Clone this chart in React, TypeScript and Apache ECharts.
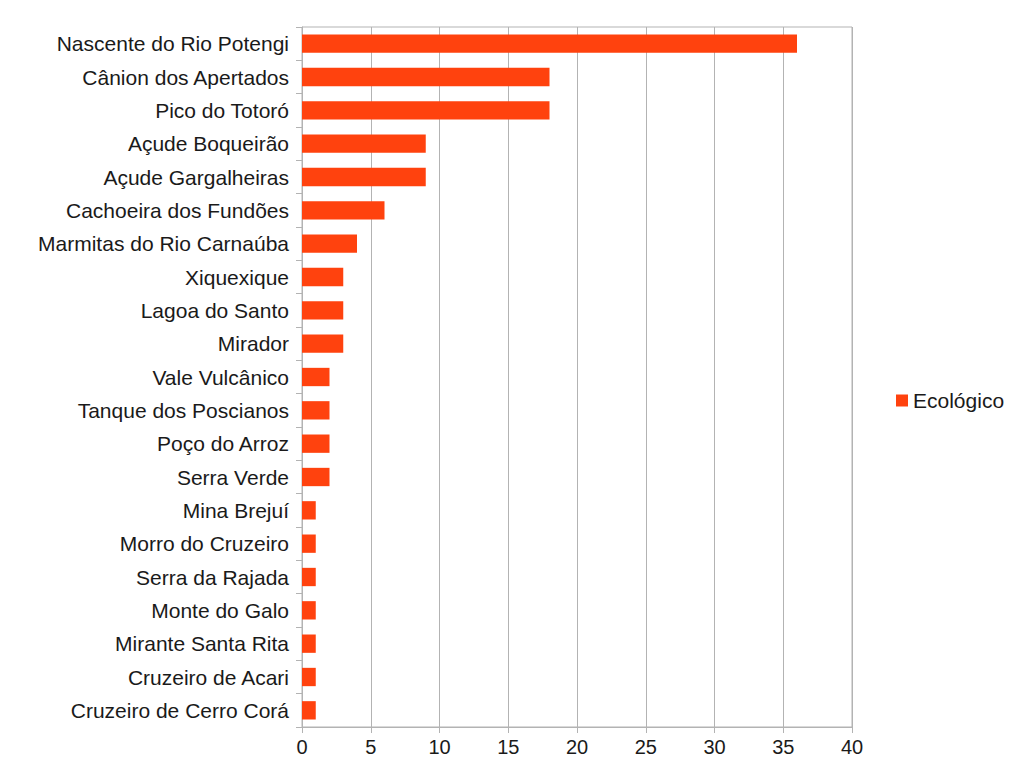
import React, { useEffect, useRef } from "react";
import * as echarts from "echarts";

const categories = [
  "Nascente do Rio Potengi",
  "Cânion dos Apertados",
  "Pico do Totoró",
  "Açude Boqueirão",
  "Açude Gargalheiras",
  "Cachoeira dos Fundões",
  "Marmitas do Rio Carnaúba",
  "Xiquexique",
  "Lagoa do Santo",
  "Mirador",
  "Vale Vulcânico",
  "Tanque dos Poscianos",
  "Poço do Arroz",
  "Serra Verde",
  "Mina Brejuí",
  "Morro do Cruzeiro",
  "Serra da Rajada",
  "Monte do Galo",
  "Mirante Santa Rita",
  "Cruzeiro de Acari",
  "Cruzeiro de Cerro Corá",
];
const values = [36, 18, 18, 9, 9, 6, 4, 3, 3, 3, 2, 2, 2, 2, 1, 1, 1, 1, 1, 1, 1];
const seriesName = "Ecológico";

export default function App() {
  const ref = useRef<HTMLDivElement>(null);
  useEffect(() => {
    const chart = echarts.init(ref.current!, null, { renderer: "svg" });
    const font = "'Liberation Sans', Arial, sans-serif";
    const gray = "#b3b3b3";
    chart.setOption({
      animation: false,
      backgroundColor: "#ffffff",
      textStyle: { fontFamily: font },
      grid: {
        left: 302,
        right: 163,
        top: 27,
        bottom: 52,
        show: true,
        borderColor: gray,
        borderWidth: 1,
        containLabel: false,
      },
      legend: {
        data: [seriesName],
        orient: "vertical",
        left: 891,
        top: 385,
        itemWidth: 12,
        itemHeight: 12,
        icon: "rect",
        itemGap: 8,
        textStyle: { fontSize: 21, color: "#1a1a1a", fontFamily: font },
      },
      xAxis: {
        type: "value",
        min: 0,
        max: 40,
        interval: 5,
        axisLine: { show: true, lineStyle: { color: gray } },
        axisTick: { show: true, length: 6, lineStyle: { color: gray } },
        splitLine: { show: true, lineStyle: { color: gray } },
        axisLabel: { fontSize: 20, color: "#1a1a1a", margin: 10, fontFamily: font },
      },
      yAxis: {
        type: "category",
        inverse: true,
        data: categories,
        axisLine: { show: true, lineStyle: { color: gray } },
        axisTick: { show: true, length: 6, lineStyle: { color: gray } },
        splitLine: { show: false },
        axisLabel: { fontSize: 21, color: "#1a1a1a", margin: 13, fontFamily: font },
      },
      series: [
        {
          name: seriesName,
          type: "bar",
          data: values,
          barCategoryGap: "45%",
          itemStyle: { color: "#ff420e" },
        },
      ],
    });
    return () => chart.dispose();
  }, []);
  return (
    <div
      ref={ref}
      style={{ position: "fixed", left: 0, top: 0, width: 1015, height: 779 }}
    />
  );
}
